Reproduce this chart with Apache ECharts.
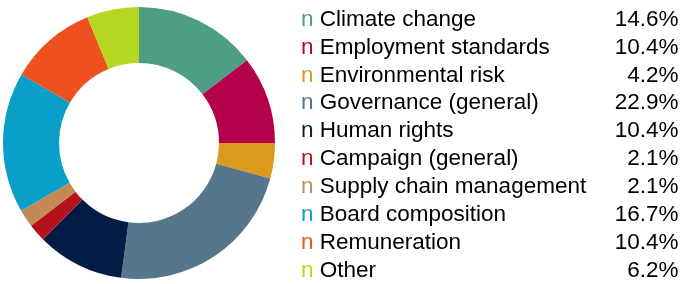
<!DOCTYPE html>
<html>
<head>
<meta charset="utf-8">
<script src="https://cdn.jsdelivr.net/npm/echarts@6/dist/echarts.min.js"></script>
<style>
  html, body { margin: 0; padding: 0; background: #fff; }
  #grafico_dona { width: 683px; height: 284px; }
</style>
</head>
<body>
<div id="grafico_dona"></div>
<script>
const categorias = [
  'Climate change',
  'Employment standards',
  'Environmental risk',
  'Governance (general)',
  'Human rights',
  'Campaign (general)',
  'Supply chain management',
  'Board composition',
  'Remuneration',
  'Other'
]
const valores = [14.6, 10.4, 4.2, 22.9, 10.4, 2.1, 2.1, 16.7, 10.4, 6.2]
const colores = [
  '#4e9e86', '#b5004b', '#d99a1e', '#56768c', '#021c45',
  '#b5121b', '#c48a56', '#0a9fc8', '#ee5020', '#b5d720'
]

const chart = echarts.init(document.getElementById('grafico_dona'))

// estilos del texto de la leyenda, un marcador por color
const rich = {
  t: { fontFamily: 'Liberation Sans', fontSize: 22.5, color: '#000', width: 295 },
  v: { fontFamily: 'Liberation Sans', fontSize: 22.5, color: '#000', width: 70, align: 'right' }
}
colores.forEach((c, i) => {
  rich['m' + i] = { fontFamily: 'Liberation Sans', fontSize: 22.5, color: c }
})

const option = {
  animation: false,
  legend: {
    orient: 'vertical',
    left: 301,
    top: 8,
    height: 280,
    padding: 0,
    icon: 'none',
    itemWidth: 0,
    itemHeight: 0,
    itemGap: 4.9,
    selectedMode: false,
    data: categorias,
    formatter: name => {
      const i = categorias.indexOf(name)
      return '{m' + i + '|n}{t| ' + name + '}{v|' + valores[i].toFixed(1) + '%}'
    },
    textStyle: { rich: rich, padding: [0, 0, 0, -5] }
  },
  series: [
    {
      type: 'pie',
      center: [139, 143],
      radius: [80, 136],
      startAngle: 90,
      clockwise: true,
      label: { show: false },
      labelLine: { show: false },
      emphasis: { disabled: true },
      data: categorias.map((nombre, i) => ({
        name: nombre,
        value: valores[i],
        itemStyle: { color: colores[i] }
      }))
    }
  ]
}

chart.setOption(option)
</script>
</body>
</html>
